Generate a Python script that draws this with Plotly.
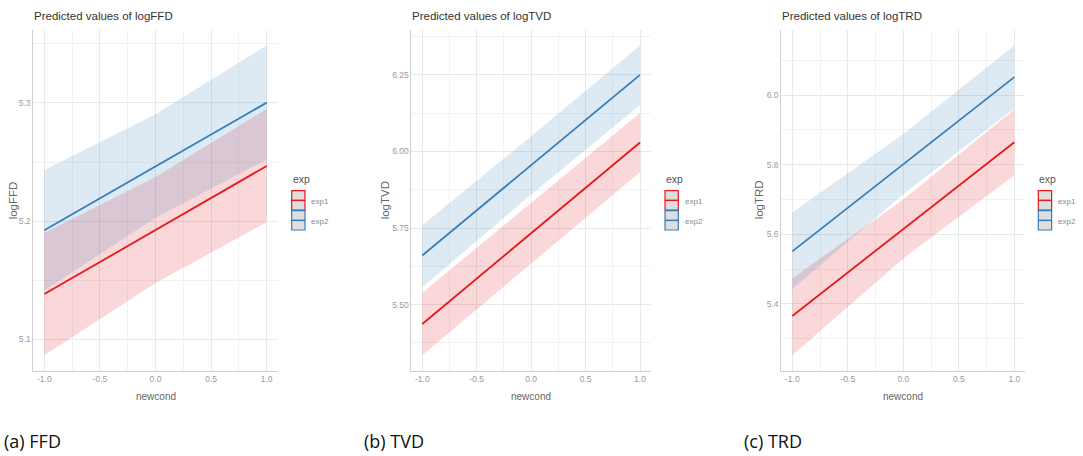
import plotly.graph_objects as go

W, H = 1083, 456

# ---------------- data ----------------
newcond = [-1.0, 0.0, 1.0]
groups = ["exp1", "exp2"]

titles = ["Predicted values of logFFD", "Predicted values of logTVD", "Predicted values of logTRD"]
ylabels = ["logFFD", "logTVD", "logTRD"]
captions = ["(a) FFD", "(b) TVD", "(c) TRD"]
xticks = [-1.0, -0.5, 0.0, 0.5, 1.0]
xtick_text = ["-1.0", "-0.5", "0.0", "0.5", "1.0"]

# FFD
ffd_exp1_fit = [5.1384, 5.1925, 5.2467]
ffd_exp1_lo = [5.0867, 5.1477, 5.1992]
ffd_exp1_hi = [5.1900, 5.2375, 5.2948]
ffd_exp2_fit = [5.1924, 5.2464, 5.3003]
ffd_exp2_lo = [5.1415, 5.2030, 5.2522]
ffd_exp2_hi = [5.2433, 5.2905, 5.3486]
ffd_yticks = [5.1, 5.2, 5.3]
ffd_ytext = ["5.1", "5.2", "5.3"]

# TVD
tvd_exp1_fit = [5.4370, 5.7332, 6.0295]
tvd_exp1_lo = [5.3350, 5.6330, 5.9330]
tvd_exp1_hi = [5.5390, 5.8330, 6.1256]
tvd_exp2_fit = [5.6605, 5.9552, 6.2500]
tvd_exp2_lo = [5.5570, 5.8600, 6.1520]
tvd_exp2_hi = [5.7590, 6.0500, 6.3460]
tvd_yticks = [5.50, 5.75, 6.00, 6.25]
tvd_ytext = ["5.50", "5.75", "6.00", "6.25"]

# TRD
trd_exp1_fit = [5.3656, 5.6152, 5.8648]
trd_exp1_lo = [5.2528, 5.5310, 5.7700]
trd_exp1_hi = [5.4740, 5.7000, 5.9587]
trd_exp2_fit = [5.5510, 5.8014, 6.0517]
trd_exp2_lo = [5.4430, 5.7150, 5.9620]
trd_exp2_hi = [5.6630, 5.8880, 6.1426]
trd_yticks = [5.4, 5.6, 5.8, 6.0]
trd_ytext = ["5.4", "5.6", "5.8", "6.0"]

panels = [
    dict(fit=[ffd_exp1_fit, ffd_exp2_fit], lo=[ffd_exp1_lo, ffd_exp2_lo], hi=[ffd_exp1_hi, ffd_exp2_hi],
         yt=ffd_yticks, ytt=ffd_ytext, minor=(5.05, 0.1)),
    dict(fit=[tvd_exp1_fit, tvd_exp2_fit], lo=[tvd_exp1_lo, tvd_exp2_lo], hi=[tvd_exp1_hi, tvd_exp2_hi],
         yt=tvd_yticks, ytt=tvd_ytext, minor=(5.375, 0.25)),
    dict(fit=[trd_exp1_fit, trd_exp2_fit], lo=[trd_exp1_lo, trd_exp2_lo], hi=[trd_exp1_hi, trd_exp2_hi],
         yt=trd_yticks, ytt=trd_ytext, minor=(5.3, 0.2)),
]

# ---------------- style ----------------
line_colors = ["#E41A1C", "#377EB8"]
fill_colors = ["rgba(228,26,28,0.17)", "rgba(55,126,184,0.17)"]
SANS = "Liberation Sans, Arial, sans-serif"
CAP = "Open Sans, Noto Sans, sans-serif"

x_dom_px = [(33.2, 277.8), (411.4, 650.9), (781.2, 1025.4)]
y_top_px, y_bot_px = 30.0, 370.7
legend_x_px = [291.7, 665.0, 1038.3]
ytitle_x_px = [13.0, 385.0, 759.0]
caption_x_px = [2.0, 362.0, 742.0]


def px(x):
    return x / W


def py(y):
    return 1 - y / H


fig = go.Figure()
shapes = []
annotations = []

for i, p in enumerate(panels):
    sfx = "" if i == 0 else str(i + 1)
    xa, ya = "x" + sfx, "y" + sfx
    # ribbons
    for g in range(2):
        xs = newcond + newcond[::-1]
        ys = p["hi"][g] + p["lo"][g][::-1]
        fig.add_trace(go.Scatter(x=xs, y=ys, fill="toself", fillcolor=fill_colors[g],
                                 line=dict(width=0), mode="lines", hoverinfo="skip",
                                 showlegend=False, xaxis=xa, yaxis=ya))
    # lines
    for g in range(2):
        fig.add_trace(go.Scatter(x=newcond, y=p["fit"][g], mode="lines",
                                 line=dict(color=line_colors[g], width=1.8),
                                 name=groups[g], showlegend=False, xaxis=xa, yaxis=ya))

    lo = min(min(p["lo"][0]), min(p["lo"][1]))
    hi = max(max(p["hi"][0]), max(p["hi"][1]))
    pad = 0.05 * (hi - lo)
    d0, d1 = x_dom_px[i]
    axis_common = dict(showline=True, linecolor="#cfcfcf", linewidth=1, zeroline=False,
                       ticks="", gridcolor="#e9e9e9", gridwidth=1)
    fig.layout["xaxis" + sfx] = dict(
        domain=[px(d0), px(d1)], range=[-1.1, 1.1], anchor=ya,
        tickvals=xticks, ticktext=xtick_text,
        tickfont=dict(family=SANS, size=8.5, color="#9a9a9a"),
        minor=dict(tick0=-0.75, dtick=0.5, showgrid=True, gridcolor="#f2f2f2", gridwidth=1, ticks=""),
        **axis_common)
    fig.layout["yaxis" + sfx] = dict(
        domain=[py(y_bot_px), py(y_top_px)], range=[lo - pad, hi + pad], anchor=xa,
        tickvals=p["yt"], ticktext=p["ytt"],
        tickfont=dict(family=SANS, size=8.5, color="#9a9a9a"),
        minor=dict(tick0=p["minor"][0], dtick=p["minor"][1], showgrid=True, gridcolor="#f2f2f2",
                   gridwidth=1, ticks=""),
        **axis_common)

    # title
    annotations.append(dict(text=titles[i], x=px(d0 - 1), y=py(16), xref="paper", yref="paper",
                            xanchor="left", yanchor="middle", showarrow=False,
                            font=dict(family=SANS, size=11.5, color="#333333")))
    # x title
    annotations.append(dict(text="newcond", x=px((d0 + d1) / 2), y=py(396), xref="paper", yref="paper",
                            xanchor="center", yanchor="middle", showarrow=False,
                            font=dict(family=SANS, size=10, color="#666666")))
    # y title
    annotations.append(dict(text=ylabels[i], x=px(ytitle_x_px[i]), y=py((y_top_px + y_bot_px) / 2),
                            xref="paper", yref="paper", xanchor="center", yanchor="middle",
                            textangle=-90, showarrow=False,
                            font=dict(family=SANS, size=11.5, color="#666666")))
    # caption
    annotations.append(dict(text=captions[i], x=px(caption_x_px[i]), y=py(441), xref="paper", yref="paper",
                            xanchor="left", yanchor="middle", showarrow=False,
                            font=dict(family=CAP, size=18, color="#111111")))
    # legend
    lx = legend_x_px[i]
    annotations.append(dict(text="exp", x=px(lx - 1), y=py(179), xref="paper", yref="paper",
                            xanchor="left", yanchor="middle", showarrow=False,
                            font=dict(family=SANS, size=10.5, color="#555555")))
    for g in range(2):
        top = 190.7 + g * 20.0
        bot = top + 19.3
        shapes.append(dict(type="rect", xref="paper", yref="paper",
                           x0=px(lx), x1=px(lx + 13.3), y0=py(bot), y1=py(top),
                           fillcolor="#dedede", line=dict(color=line_colors[g], width=1.2)))
        shapes.append(dict(type="line", xref="paper", yref="paper",
                           x0=px(lx), x1=px(lx + 13.3), y0=py((top + bot) / 2), y1=py((top + bot) / 2),
                           line=dict(color=line_colors[g], width=1.5)))
        annotations.append(dict(text=groups[g], x=px(lx + 17.5), y=py((top + bot) / 2 + 1),
                                xref="paper", yref="paper", xanchor="left", yanchor="middle",
                                showarrow=False, font=dict(family=SANS, size=8, color="#888888")))

fig.update_layout(width=W, height=H, margin=dict(l=0, r=0, t=0, b=0),
                  paper_bgcolor="white", plot_bgcolor="white",
                  showlegend=False, shapes=shapes, annotations=annotations)

fig.write_html("out.html", config={"displayModeBar": False},
               post_script="document.body.style.margin='0px';")
